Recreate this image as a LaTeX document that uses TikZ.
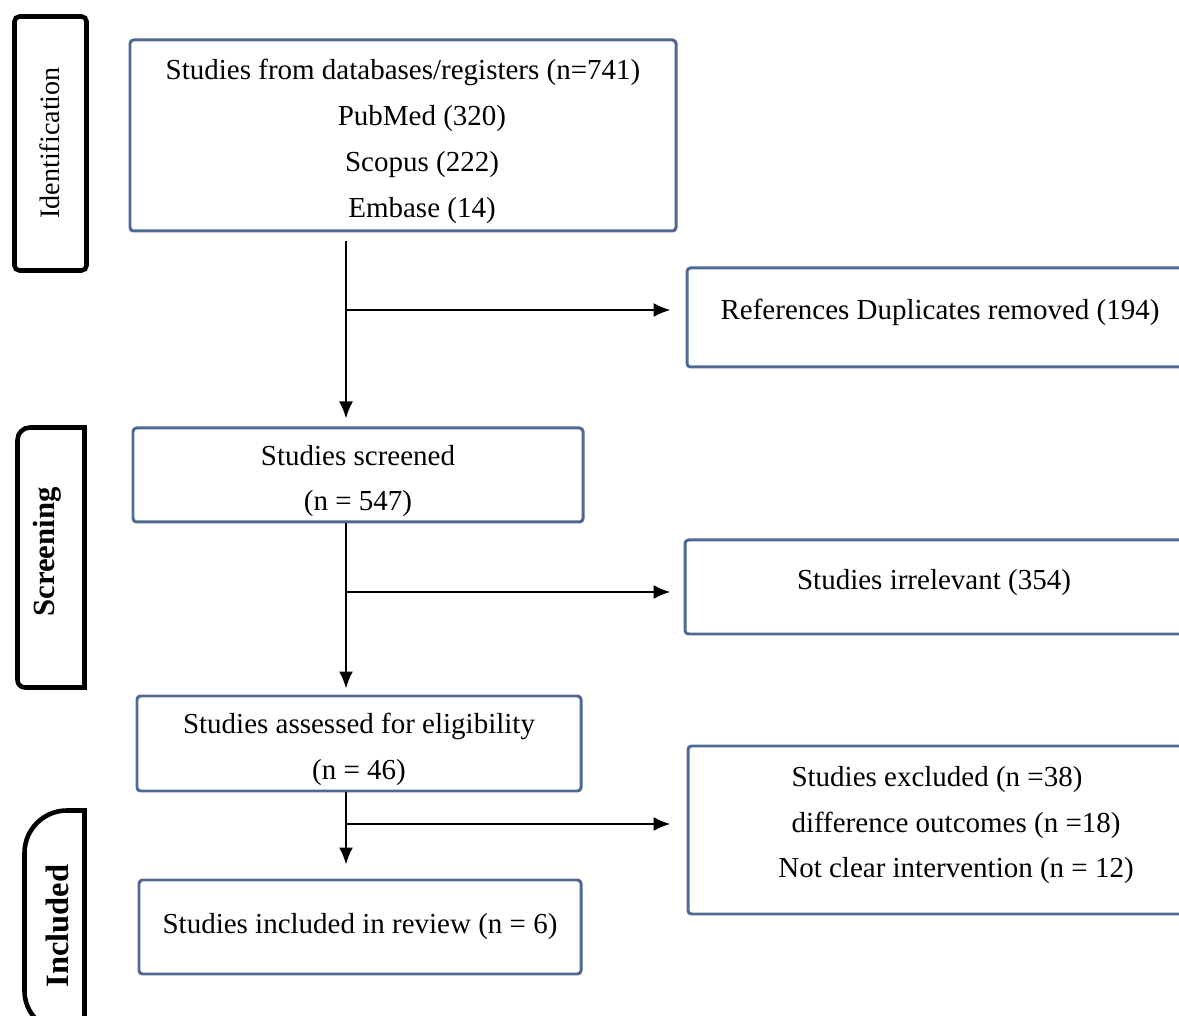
\documentclass[tikz,border=0pt]{standalone}
\usepackage{fontspec}
\setmainfont{Liberation Serif}
\usetikzlibrary{arrows.meta}
\definecolor{PRBlue}{HTML}{4F6A92}
\definecolor{PRInk}{HTML}{000000}

\begin{document}
\begin{tikzpicture}[x=1cm,y=1cm,
  box/.style={draw=PRBlue,line width=1.7pt,rounded corners=2pt,align=center,inner sep=0pt,font=\fontsize{16.5}{26}\selectfont},
  stage/.style={rotate=90,font=\fontsize{16}{20}\selectfont},
  flow/.style={-{Latex[length=0.34cm,width=0.28cm]},line width=1.1pt}]
\path[use as bounding box] (0,0) rectangle (23.58,20.32);
% phase labels on the left
\draw[PRInk,line width=2.6pt,rounded corners=0.1cm] (0.29,14.91) rectangle (1.73,19.99);
\draw[PRInk,line width=2.6pt] (1.69,11.77) -- (0.60,11.77) arc[start angle=90,end angle=180,radius=0.25]
  -- (0.35,6.72) arc[start angle=180,end angle=270,radius=0.15] -- (1.69,6.57) -- cycle;
\draw[PRInk,line width=2.6pt] (1.69,4.11) -- (1.34,4.11) arc[start angle=90,end angle=180,radius=0.85]
  -- (0.49,0.50) arc[start angle=180,end angle=270,radius=0.80] -- (1.69,-0.30) -- cycle;
\node[stage] (ident) at (1.00,17.46) {Identification};
\node[stage,font=\fontsize{17.5}{20}\selectfont] (screen) at (0.94,9.28) {\bfseries Screening};
\node[stage,font=\fontsize{18.5}{20}\selectfont] (incl) at (1.14,1.80) {\bfseries Included};
% main column
\node[box,minimum width=10.92cm,minimum height=3.82cm] (A) at (8.06,17.61)
  {\mbox{}\\[-0.27cm] Studies from databases/registers (n=741)\\ \hspace*{0.76cm}PubMed (320)\\ \hspace*{0.76cm}Scopus (222)\\ \hspace*{0.76cm}Embase (14)};
\node[box,minimum width=9.00cm,minimum height=1.88cm] (C) at (7.16,10.82) {\mbox{}\\[-0.27cm] Studies screened\\ (n = 547)};
\node[box,minimum width=8.88cm,minimum height=1.90cm] (E) at (7.18,5.45) {\mbox{}\\[-0.27cm] Studies assessed for eligibility\\ (n = 46)};
\node[box,minimum width=8.84cm,minimum height=1.88cm] (G) at (7.20,1.78) {Studies included in review (n = 6)};
% exclusions on the right
\node[box,minimum width=10.12cm,minimum height=1.98cm] (B) at (18.80,13.97) {References Duplicates removed (194)\\[-0.6cm]\mbox{}};
\node[box,minimum width=9.96cm,minimum height=1.88cm] (D) at (18.68,8.58) {Studies irrelevant (354)\\[-0.6cm]\mbox{}};
\node[box,minimum width=10.72cm,minimum height=3.36cm] (F) at (19.12,3.72)
  {Studies excluded (n =38)\hspace*{0.76cm}\\ difference outcomes (n =18)\\ Not clear intervention (n = 12)\\[-0.6cm]\mbox{}};
% connectors
\coordinate (t1) at (6.92,14.12);
\coordinate (t2) at (6.92,8.48);
\coordinate (t3) at (6.92,3.84);
\draw[flow,shorten <=0.18cm,shorten >=0.16cm] (t1 |- A.south) -- (t1 |- C.north);
\draw[flow,shorten >=0.30cm] (t1) -- (t1 -| B.west);
\draw[flow,shorten >=0.12cm] (t2 |- C.south) -- (t2 |- E.north);
\draw[flow,shorten >=0.26cm] (t2) -- (t2 -| D.west);
\draw[flow,shorten >=0.28cm] (t3 |- E.south) -- (t3 |- G.north);
\draw[flow,shorten >=0.32cm] (t3) -- (t3 -| F.west);
\end{tikzpicture}
\end{document}
